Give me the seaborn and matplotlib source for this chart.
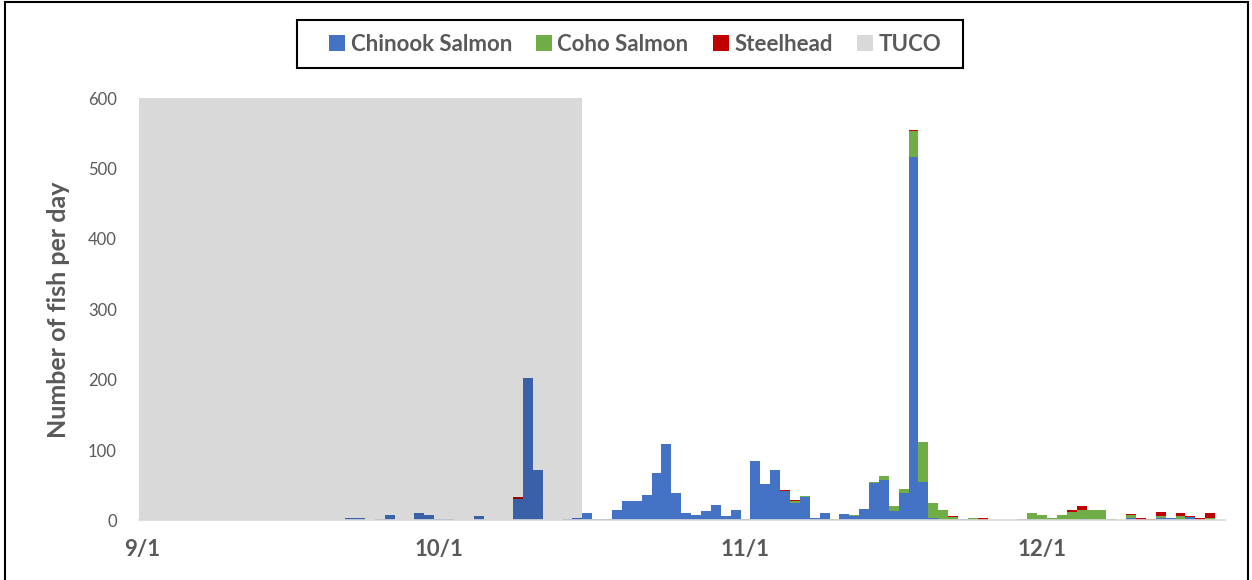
"""Daily fish counts at the trap, stacked by species, with the TUCO period shaded."""

import numpy as np
import pandas as pd
import matplotlib.pyplot as plt
import matplotlib.colors as mcolors
from matplotlib.lines import Line2D
from matplotlib.patches import Rectangle
import seaborn as sns

# day index 0 = 9/1
chinook = [
    0, 0, 0, 0, 0, 0, 0, 0, 0, 0,
    0, 0, 0, 0, 0, 0, 0, 0, 0, 0,
    0, 4, 3, 0, 2, 8, 0, 0, 11, 8,
    2, 2, 0, 1, 6, 0, 1, 0, 31, 202,
    72, 0, 0, 2, 3, 10, 2, 2, 15, 28,
    28, 36, 67, 108, 39, 10, 8, 13, 22, 7,
    15, 2, 84, 52, 71, 42, 25, 34, 3, 10,
    1, 9, 7, 17, 53, 57, 13, 39, 516, 54,
    3, 1, 0, 2, 0, 0, 0, 0, 0, 0,
    2, 1, 0, 0, 1, 2, 1, 0, 0, 0,
    4, 1, 0, 3, 3, 2, 5, 0, 1,
]
coho = [
    0, 0, 0, 0, 0, 0, 0, 0, 0, 0,
    0, 0, 0, 0, 0, 0, 0, 0, 0, 0,
    0, 0, 0, 0, 0, 0, 0, 0, 0, 0,
    0, 0, 0, 0, 0, 0, 0, 0, 0, 0,
    0, 0, 0, 0, 0, 0, 0, 0, 0, 0,
    0, 0, 0, 0, 0, 0, 0, 0, 0, 0,
    0, 0, 0, 0, 0, 0, 2, 1, 1, 0,
    1, 0, 1, 0, 2, 6, 8, 6, 37, 58,
    22, 14, 5, 0, 4, 1, 0, 0, 0, 2,
    8, 7, 3, 8, 11, 13, 14, 15, 2, 0,
    4, 0, 0, 3, 0, 5, 0, 1, 2,
]
steelhead = [
    0, 0, 0, 0, 0, 0, 0, 0, 0, 0,
    0, 0, 0, 0, 0, 0, 0, 0, 0, 0,
    0, 0, 0, 0, 0, 0, 0, 0, 0, 0,
    0, 0, 0, 0, 0, 0, 0, 0, 2, 0,
    0, 0, 0, 0, 0, 0, 0, 0, 0, 0,
    0, 0, 0, 0, 0, 0, 0, 0, 0, 0,
    0, 0, 0, 0, 0, 2, 2, 0, 0, 0,
    0, 0, 0, 0, 0, 0, 0, 0, 2, 0,
    0, 0, 1, 0, 0, 2, 0, 0, 0, 0,
    0, 0, 0, 0, 3, 5, 0, 0, 0, 0,
    1, 2, 2, 6, 1, 4, 1, 3, 7,
]
tuco_first_day, tuco_last_day = 0, 44
tuco_height = 600

species = ["Chinook Salmon", "Coho Salmon", "Steelhead"]
colors = {"Chinook Salmon": "#4472C4", "Coho Salmon": "#70AD47", "Steelhead": "#C00000"}
tuco_color = "#D9D9D9"

tick_days = [0, 30, 61, 91]
tick_labels = ["9/1", "10/1", "11/1", "12/1"]

days = np.arange(len(chinook))
df = pd.concat(
    [pd.DataFrame({"day": days, "species": name, "count": vals})
     for name, vals in zip(species, [chinook, coho, steelhead])],
    ignore_index=True,
)

sns.set_theme(style="white")
plt.rcParams["font.family"] = ["Lato", "DejaVu Sans"]
grey = "#595959"

fig = plt.figure(figsize=(12.52, 5.8), dpi=100)
ax = fig.add_axes([0.111, 0.1026, 0.8674, 0.7284])

sns.histplot(
    data=df, x="day", weights="count", hue="species",
    hue_order=species[::-1], palette=colors,
    multiple="stack", discrete=True, shrink=1,
    alpha=1, linewidth=0, legend=False, ax=ax,
)

# bars under the TUCO shading show up darker in the original
for p in ax.patches:
    cx = p.get_x() + p.get_width() / 2
    if tuco_first_day - 0.5 <= cx <= tuco_last_day + 0.5 and p.get_height() > 0:
        rgb = np.array(mcolors.to_rgb(p.get_facecolor())) * 0.85
        p.set_facecolor(rgb)

ax.axvspan(tuco_first_day - 0.5, tuco_last_day + 0.5, ymax=tuco_height / 600,
           color=tuco_color, lw=0, zorder=0)

ax.set_xlim(-0.35, 109.5)
ax.set_ylim(0, 600)
ax.set_yticks(range(0, 601, 100))
ax.set_xticks(tick_days)
ax.set_xticklabels(tick_labels, fontsize=16, fontweight="bold", color=grey)
ax.tick_params(axis="y", labelsize=12, labelcolor=grey, length=0, pad=16)
ax.tick_params(axis="x", length=0, pad=13)
ax.set_xlabel("")
ax.set_ylabel("Number of fish per day", fontsize=18, fontweight="bold",
              color=grey, labelpad=13)

for s in ["top", "right", "left"]:
    ax.spines[s].set_visible(False)
ax.spines["bottom"].set_color(tuco_color)
ax.spines["bottom"].set_linewidth(1.2)

handles = [Line2D([], [], marker="s", ls="none", markersize=11,
                  markerfacecolor=colors[s], markeredgewidth=0) for s in species]
handles.append(Line2D([], [], marker="s", ls="none", markersize=11,
                      markerfacecolor=tuco_color, markeredgewidth=0))
leg = fig.legend(
    handles, species + ["TUCO"], loc="center", bbox_to_anchor=(0.506, 0.924),
    ncol=4, frameon=False, prop={"size": 16, "weight": "bold"},
    handletextpad=0.1, columnspacing=0.95, handlelength=1.0,
)
for t in leg.get_texts():
    t.set_color(grey)

# legend box as drawn in the original (wider padding than matplotlib allows)
fig.patches.append(Rectangle((297 / 1252, 1 - 68 / 580), 666 / 1252, 48 / 580,
                             transform=fig.transFigure, fill=False,
                             edgecolor="black", lw=1.5))

# outer chart border
fig.patches.append(Rectangle((0.004, -0.01), 0.993, 1.007, transform=fig.transFigure,
                             fill=False, edgecolor="black", lw=1.5))

fig.savefig("out.png", dpi=100)
